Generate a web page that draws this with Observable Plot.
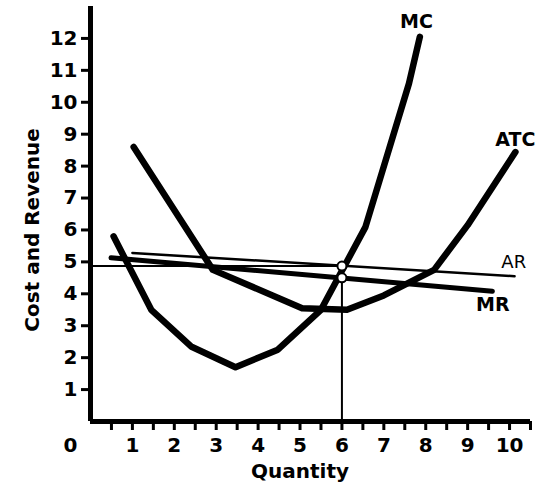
<!DOCTYPE html>
<html>
<head>
<meta charset="utf-8">
<script src="https://cdn.jsdelivr.net/npm/d3@7"></script>
<script src="https://cdn.jsdelivr.net/npm/@observablehq/plot@0.6"></script>
<style>
  body { margin: 0; background: #fff; }
</style>
</head>
<body>
<div id="chart"></div>
<script>
// Marginal cost curve
const mcQuantity = [0.55, 1.45, 2.4, 3.46, 4.47, 5.5, 6.56, 7.6, 7.86];
const mcCost     = [5.8, 3.5, 2.35, 1.7, 2.25, 3.5, 6.09, 10.59, 12.05];

// Average total cost curve
const atcQuantity = [1.03, 2.92, 5.05, 6.12, 7.0, 8.2, 9.0, 10.14];
const atcCost     = [8.6, 4.75, 3.55, 3.5, 3.95, 4.75, 6.15, 8.44];

// Average revenue (demand) and marginal revenue lines
const arQuantity = [1.0, 10.12];
const arRevenue  = [5.28, 4.55];
const mrQuantity = [0.49, 9.59];
const mrRevenue  = [5.13, 4.08];

// Profit-maximising output and the price / MR read at it
const bestQuantity = 6;
const bestPrice = 4.87;
const mrAtBest = 4.5;

// Axis ticks
const yTicks = [1, 2, 3, 4, 5, 6, 7, 8, 9, 10, 11, 12];
const xTicks = [0.5, 1, 1.5, 2, 2.5, 3, 3.5, 4, 4.5, 5, 5.5, 6, 6.5, 7, 7.5, 8, 8.5, 9, 9.5, 10, 10.5];

// Curve labels (AR is set in a lighter weight)
const boldLabels = [
  {q: 7.78, v: 12.51, text: "MC"},
  {q: 10.14, v: 8.81, text: "ATC"},
  {q: 9.6, v: 3.64, text: "MR"}
];
const plainLabels = [
  {q: 10.1, v: 4.98, text: "AR"}
];

const toPoints = (qs, vs) => qs.map((q, i) => ({q, v: vs[i]}));
const mc = toPoints(mcQuantity, mcCost);
const atc = toPoints(atcQuantity, atcCost);
const ar = toPoints(arQuantity, arRevenue);
const mr = toPoints(mrQuantity, mrRevenue);

const font = "'DejaVu Sans', Verdana, sans-serif";

const chart = Plot.plot({
  width: 560,
  height: 494,
  marginLeft: 90,
  marginRight: 30,
  marginTop: 6,
  marginBottom: 73,
  style: {fontFamily: font, fontWeight: "bold", fontSize: "20px", background: "#fff", color: "#000"},
  x: {domain: [0, 10.5]},
  y: {domain: [0, 13]},
  marks: [
    Plot.axisY(yTicks, {tickSize: 9, tickPadding: 4, strokeWidth: 3, fontSize: 20, label: null}),
    Plot.axisX(xTicks, {
      tickSize: 9, tickPadding: 7, strokeWidth: 3, fontSize: 20, label: null,
      tickFormat: d => Number.isInteger(d) ? String(d) : ""
    }),
    // axis lines
    Plot.ruleX([0], {y1: 0, y2: 13, strokeWidth: 5}),
    Plot.ruleY([0], {x1: 0, x2: 10.5, strokeWidth: 5}),
    // origin label and axis titles
    Plot.text([{q: 0, v: 0, t: "0"}], {x: "q", y: "v", text: "t", dx: -20, dy: 24, fontSize: 20, fontWeight: "bold"}),
    Plot.text([{q: 5, v: 0, t: "Quantity"}], {x: "q", y: "v", text: "t", dy: 50, fontSize: 20, fontWeight: "bold"}),
    Plot.text([{q: 0, v: 6, t: "Cost and Revenue"}], {x: "q", y: "v", text: "t", dx: -58, rotate: -90, fontSize: 20, fontWeight: "bold"}),
    // price and quantity guide lines
    Plot.ruleY([bestPrice], {x1: 0, x2: bestQuantity, strokeWidth: 2}),
    Plot.ruleX([bestQuantity], {y1: 0, y2: bestPrice, strokeWidth: 2}),
    // revenue lines
    Plot.line(ar, {x: "q", y: "v", strokeWidth: 2.5, strokeLinecap: "round"}),
    Plot.line(mr, {x: "q", y: "v", strokeWidth: 5, strokeLinecap: "round"}),
    // cost curves
    Plot.line(mc, {x: "q", y: "v", strokeWidth: 6.5, strokeLinecap: "round", strokeLinejoin: "round"}),
    Plot.line(atc, {x: "q", y: "v", strokeWidth: 6.5, strokeLinecap: "round", strokeLinejoin: "round"}),
    // points where output 6 meets AR and MR
    Plot.dot([{q: bestQuantity, v: bestPrice}, {q: bestQuantity, v: mrAtBest}], {
      x: "q", y: "v", r: 4.5, fill: "#fff", stroke: "#000", strokeWidth: 2
    }),
    Plot.text(boldLabels, {x: "q", y: "v", text: "text", fontSize: 19, fontWeight: "bold"}),
    Plot.text(plainLabels, {x: "q", y: "v", text: "text", fontSize: 18, fontWeight: "normal"})
  ]
});

document.getElementById("chart").appendChild(chart);
</script>
</body>
</html>
